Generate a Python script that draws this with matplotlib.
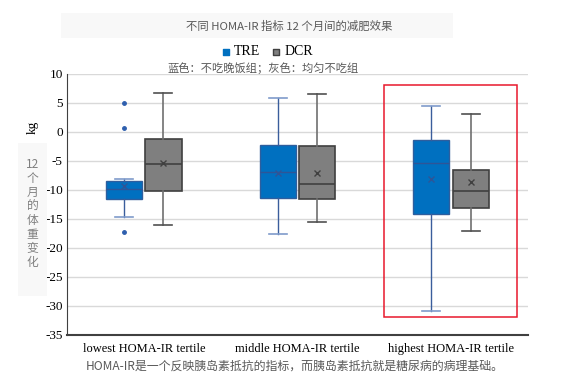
import matplotlib.pyplot as plt
from matplotlib.patches import Rectangle

# Data (kg change over 12 months)
groups = ['lowest HOMA-IR tertile', 'middle HOMA-IR tertile', 'highest HOMA-IR tertile']
tre_q1 = [-11.55, -11.4, -14.1]
tre_med = [-9.9, -6.95, -5.35]
tre_q3 = [-8.45, -2.3, -1.4]
tre_lo = [-14.65, -17.6, -30.8]
tre_hi = [-8.05, 5.9, 4.5]
tre_mean = [-9.3, -7.05, -8.15]
tre_fliers = [[5.0, 0.75, -17.3], [], []]

dcr_q1 = [-10.15, -11.5, -13.15]
dcr_med = [-5.6, -9.0, -10.15]
dcr_q3 = [-1.25, -2.5, -6.5]
dcr_lo = [-16.1, -15.6, -17.0]
dcr_hi = [6.65, 6.55, 3.1]
dcr_mean = [-5.3, -7.05, -8.65]

yticks = list(range(-35, 11, 5))

serif = 'Liberation Serif'
cjk = ['Noto Sans CJK SC', 'DejaVu Sans']

fig = plt.figure(figsize=(5.64, 3.85), dpi=100)
ax = fig.add_axes([0.1188, 0.1299, 0.817, 0.6779])


def stats(q1, med, q3, lo, hi, mean, fliers):
    out = []
    for i in range(len(q1)):
        out.append(dict(q1=q1[i], med=med[i], q3=q3[i], whislo=lo[i],
                        whishi=hi[i], mean=mean[i], fliers=fliers[i]))
    return out


pos = list(range(len(groups)))
w = 0.235
off = 0.128

tre_stats = stats(tre_q1, tre_med, tre_q3, tre_lo, tre_hi, tre_mean, tre_fliers)
dcr_stats = stats(dcr_q1, dcr_med, dcr_q3, dcr_lo, dcr_hi, dcr_mean, [[], [], []])

ax.bxp(tre_stats, positions=[p - off for p in pos], widths=w, patch_artist=True,
       showmeans=True, showcaps=True,
       boxprops=dict(facecolor='#0070C0', edgecolor='#2E5E9E', linewidth=1),
       medianprops=dict(color='#2E5597', linewidth=1),
       whiskerprops=dict(color='#3A5D9C', linewidth=1),
       capprops=dict(color='#7F9BCB', linewidth=1.2),
       meanprops=dict(marker='x', markeredgecolor='#2E5597', markersize=4, markeredgewidth=1),
       flierprops=dict(marker='o', markerfacecolor='#2E5FAE', markeredgecolor='#2E5FAE',
                       markersize=2.5),
       zorder=3)

ax.bxp(dcr_stats, positions=[p + off for p in pos], widths=w, patch_artist=True,
       showmeans=True, showcaps=True,
       boxprops=dict(facecolor='#7F7F7F', edgecolor='#404040', linewidth=1.2),
       medianprops=dict(color='#404040', linewidth=1.2),
       whiskerprops=dict(color='#707070', linewidth=1.2),
       capprops=dict(color='#505050', linewidth=1.2),
       meanprops=dict(marker='x', markeredgecolor='#404040', markersize=4, markeredgewidth=1),
       zorder=3)

ax.set_xlim(-0.5, 2.5)
ax.set_ylim(-35, 10)
ax.set_yticks(yticks)
ax.set_yticklabels([str(t) for t in yticks], fontfamily=serif, fontsize=9.5)
ax.set_xticks(pos)
ax.set_xticklabels(groups, fontfamily=serif, fontsize=9)
ax.tick_params(length=0, pad=6)
ax.tick_params(axis='y', pad=3)
ax.grid(axis='y', color='#D9D9D9', linewidth=1, zorder=0)
ax.set_axisbelow(True)
for side in ['top', 'right']:
    ax.spines[side].set_visible(False)
ax.spines['left'].set_color('#404040')
ax.spines['bottom'].set_color('#404040')
ax.spines['bottom'].set_linewidth(1.5)

# red highlight box around the highest tertile
ax.add_patch(Rectangle((1.564, -31.95), 0.863, 40.0, fill=False, edgecolor='#E8192C',
                       linewidth=1.1, clip_on=False, zorder=4))

# legend
ax.scatter([], [], marker='s', color='#0070C0', label='TRE')
ax.scatter([], [], marker='s', color='#7F7F7F', edgecolor='#404040', label='DCR')
fig.legend(loc='center', bbox_to_anchor=(0.47, 0.865), ncol=2, frameon=False,
           prop=dict(family=serif, size=10), handletextpad=0.0, columnspacing=0.5,
           markerscale=0.8, handlelength=1.2)

# faint panels behind title and vertical label
fig.patches.append(Rectangle((0.108, 0.901), 0.695, 0.065, transform=fig.transFigure,
                             facecolor='#F8F8F8', edgecolor='none', zorder=0))
fig.patches.append(Rectangle((0.032, 0.231), 0.052, 0.397, transform=fig.transFigure,
                             facecolor='#F8F8F8', edgecolor='none', zorder=0))

# texts
fig.text(0.512, 0.933, '不同 HOMA-IR 指标 12 个月间的减肥效果', ha='center', va='center',
         family=cjk, fontsize=8.2, color='#595959')
fig.text(0.466, 0.822, '蓝色：不吃晚饭组；灰色：均匀不吃组', ha='center', va='center',
         family=cjk, fontsize=8.1, color='#595959')
fig.text(0.522, 0.05, 'HOMA-IR是一个反映胰岛素抵抗的指标，而胰岛素抵抗就是糖尿病的病理基础。',
         ha='center', va='center', family=cjk, fontsize=8.6, color='#595959')
fig.text(0.058, 0.67, 'kg', ha='center', va='center', rotation=90, family=serif,
         fontsize=9.5)
fig.text(0.058, 0.445, '12\n个\n月\n的\n体\n重\n变\n化', ha='center', va='center',
         family=cjk, fontsize=8.5, color='#7F7F7F', linespacing=1.1)

fig.savefig('out.png', dpi=100)
